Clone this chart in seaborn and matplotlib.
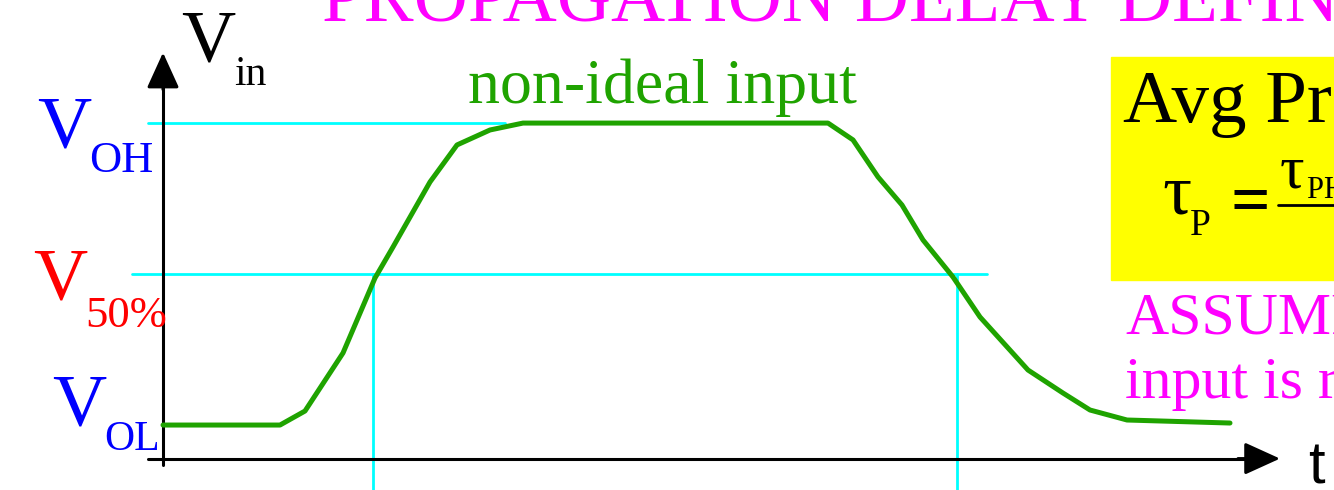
import matplotlib
matplotlib.use('Agg')
import matplotlib.pyplot as plt
import seaborn as sns
import pandas as pd
from matplotlib.patches import Rectangle

# non-ideal input waveform (t in ns, V in volts)
t_ns = [0.0, 2.34, 2.84, 3.6, 4.24, 4.6, 5.34, 5.88, 6.54, 7.2,
        13.3, 13.8, 14.3, 14.78, 15.2, 15.8, 16.34, 17.3, 18.0, 18.54, 19.28, 21.34]
v_in = [0.5, 0.5, 0.709, 1.574, 2.691, 3.153, 4.122, 4.674, 4.897, 5.0,
        5.0, 4.749, 4.197, 3.779, 3.258, 2.706, 2.11, 1.32, 0.977, 0.724, 0.575, 0.53]

V_OL = 0.5
V_OH = 5.0
V_50 = (V_OL + V_OH) / 2
t_cross = [4.2, 15.88]   # where the input passes V50

W, H = 1334, 490
sns.set_style('white')
plt.rcParams['font.family'] = ['Liberation Serif', 'DejaVu Serif']

fig = plt.figure(figsize=(W / 100, H / 100), dpi=100)
ax = fig.add_axes([0, 0, 1, 1])
ax.set_xlim(-3.26, 23.42)
ax.set_ylim(-0.468, 6.834)

df = pd.DataFrame({'t': t_ns, 'V': v_in})

# guide lines
cyan = '#00FFFF'
ax.plot([-0.3, 6.84], [V_OH, V_OH], color=cyan, lw=2, zorder=1)
ax.plot([-0.62, 16.48], [V_50, V_50], color=cyan, lw=2, zorder=1)
for tc in t_cross:
    ax.plot([tc, tc], [-0.6, V_50], color=cyan, lw=2, zorder=1)

# axes with arrows
ax.plot([0, 0], [-0.1, 5.8], color='black', lw=2.2, zorder=2)
ax.plot([-0.3, 21.8], [0, 0], color='black', lw=2.2, zorder=2)
arrow = dict(arrowstyle='-|>,head_length=22,head_width=10', color='black', lw=2.2,
             mutation_scale=1, shrinkA=0, shrinkB=0)
ax.annotate('', xy=(0, 6.05), xytext=(0, 5.5), arrowprops=arrow)
ax.annotate('', xy=(22.34, 0), xytext=(21.5, 0), arrowprops=arrow)

sns.lineplot(data=df, x='t', y='V', color='#1FA300', lw=3.6, sort=False, ax=ax, zorder=3)
ax.axis('off')


def px(x, y, s, **kw):
    fig.text(x / W, 1 - y / H, s, va='baseline', ha='left', **kw)


# title (cut off at top)
px(322, 22, 'PROPAGATION DELAY DEFINITION', color='#FF00FF', fontsize=54)

# axis labels
px(181, 62, 'V', color='black', fontsize=54)
px(234, 85, 'in', color='black', fontsize=30)
px(1308, 483, 't', color='black', fontsize=43, family='Liberation Sans')

# level labels
px(37, 147, 'V', color='#0000FF', fontsize=54)
px(89, 172, 'OH', color='#0000FF', fontsize=32)
px(33, 300, 'V', color='#FF0000', fontsize=54)
px(85, 327, '50%', color='#FF0000', fontsize=32)
px(52, 425, 'V', color='#0000FF', fontsize=54)
px(104, 450, 'OL', color='#0000FF', fontsize=30)

px(468, 103, 'non-ideal input', color='#1FA300', fontsize=46)

# yellow box with average delay
fig.patches.append(Rectangle((1111 / W, 1 - 280 / H), 300 / W, 223 / H,
                             transform=fig.transFigure, color='#FFFF00', zorder=0))
px(1123, 122, 'Avg Propagation Delay', color='black', fontsize=54)
px(1162, 213, 'τ', color='black', fontsize=52)
px(1190, 235, 'P', color='black', fontsize=27)
px(1230, 223, '=', color='black', fontsize=50, fontweight='bold')
fig.lines.append(plt.Line2D([1278 / W, 1.05], [1 - 205 / H, 1 - 205 / H],
                            transform=fig.transFigure, color='black', lw=2))
px(1280, 188, 'τ', color='black', fontsize=44)
px(1307, 198, 'PHL + τPLH', color='black', fontsize=22)

px(1125, 333, 'ASSUMPTION:', color='#FF00FF', fontsize=43)
px(1125, 398, 'input is ramp', color='#FF00FF', fontsize=43)

fig.savefig('out.png', dpi=100)
